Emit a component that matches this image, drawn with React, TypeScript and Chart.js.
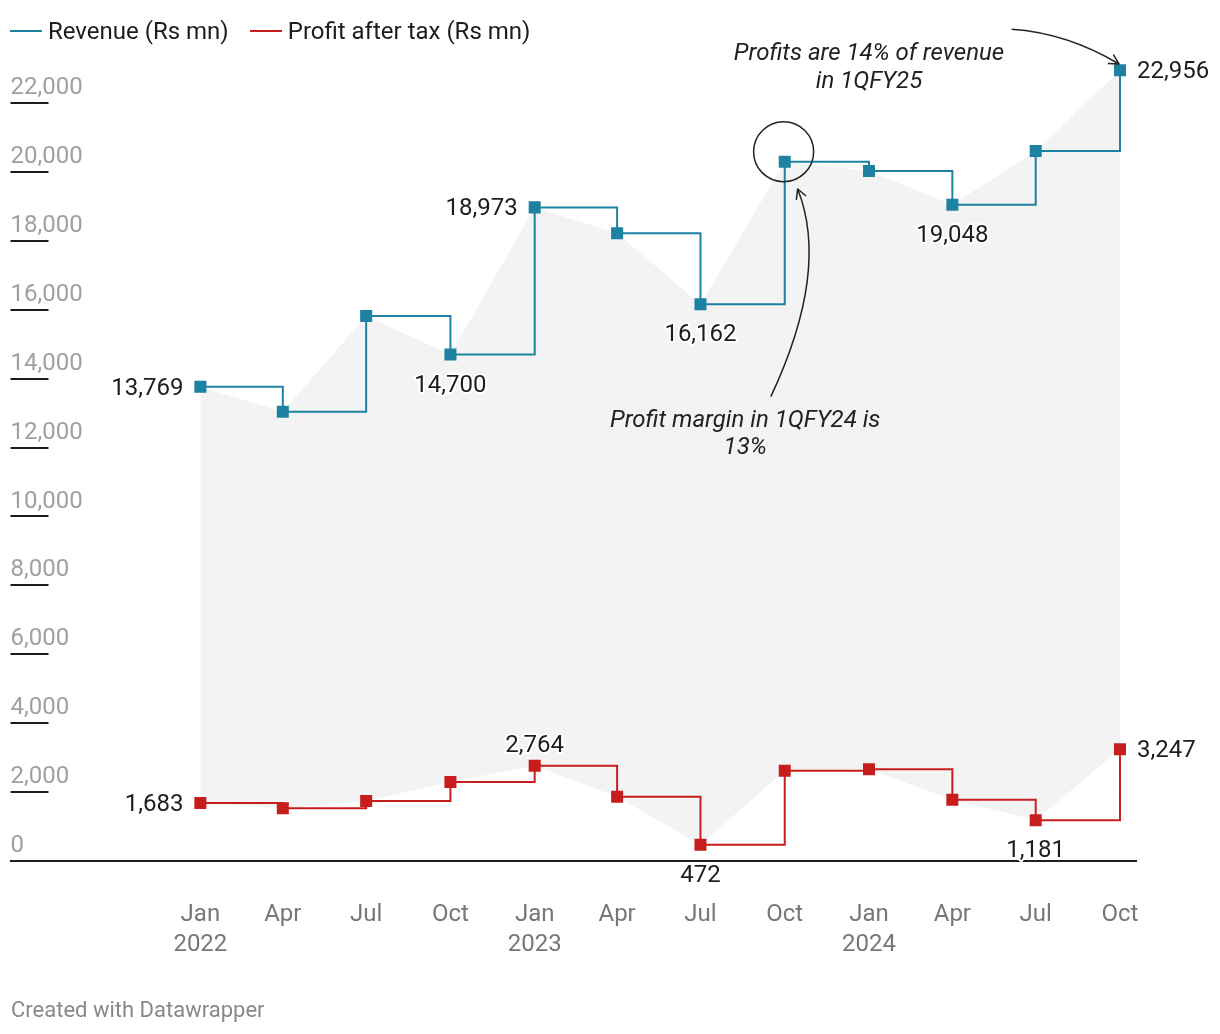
import React, { useEffect, useRef } from "react";
import { Chart, registerables } from "chart.js";

Chart.register(...registerables);

// ---------- data ----------
const DATES = [
  "2022-01-01", "2022-04-01", "2022-07-01", "2022-10-01",
  "2023-01-01", "2023-04-01", "2023-07-01", "2023-10-01",
  "2024-01-01", "2024-04-01", "2024-07-01", "2024-10-01",
];
const MONTH_LABELS = ["Jan", "Apr", "Jul", "Oct", "Jan", "Apr", "Jul", "Oct", "Jan", "Apr", "Jul", "Oct"];
const YEAR_LABELS = ["2022", "", "", "", "2023", "", "", "", "2024", "", "", ""];
const REVENUE = [13769, 13040, 15820, 14700, 18973, 18220, 16162, 20300, 20030, 19048, 20610, 22956];
const PROFIT = [1683, 1530, 1742, 2293, 2764, 1866, 472, 2620, 2665, 1778, 1181, 3247];
const Y_TICKS = [0, 2000, 4000, 6000, 8000, 10000, 12000, 14000, 16000, 18000, 20000, 22000];
const SERIES_NAMES = ["Revenue (Rs mn)", "Profit after tax (Rs mn)"];
const REVENUE_LABELS = [
  { index: 0, pos: "left" },
  { index: 3, pos: "below" },
  { index: 4, pos: "left" },
  { index: 6, pos: "below" },
  { index: 9, pos: "below" },
  { index: 11, pos: "right" },
];
const PROFIT_LABELS = [
  { index: 0, pos: "left" },
  { index: 4, pos: "above" },
  { index: 6, pos: "below" },
  { index: 10, pos: "below" },
  { index: 11, pos: "right" },
];
const NOTE_1 = ["Profits are 14% of revenue", "in 1QFY25"];
const NOTE_2 = ["Profit margin in 1QFY24 is", "13%"];
const FOOTER = "Created with Datawrapper";

// annotation anchors in data space (x: days since first date, y: value)
const NOTE_1_POS = { x: 730, y: [23251, 22438] };
const NOTE_2_POS = { x: 594.8, y: [12607, 11814] };
const ARROW_1 = [{ x: 885.8, y: 24142 }, { x: 946.2, y: 24034 }, { x: 1002.9, y: 23135 }];
const ARROW_2 = [{ x: 622.8, y: 13478 }, { x: 687.5, y: 17141 }, { x: 652.1, y: 19506 }];
const CIRCLE = { x: 636.8, y: 20590 };

// ---------- style ----------
const REV_COLOR = "#1d81a2";
const PRO_COLOR = "#c71e1d";
const AREA_COLOR = "#f3f3f3";
const TEXT_COLOR = "#1d1d1d";
const FONT = "Roboto, 'Noto Sans', sans-serif";

const X_MIN = -207.3;
const X_MAX = 1021.5;
const Y_MAX = 24000;

const dayOf = (d: string) => (Date.parse(d) - Date.parse(DATES[0])) / 86400000;

export default function App() {
  const ref = useRef<HTMLCanvasElement>(null);

  useEffect(() => {
    const canvas = ref.current!;
    const days = DATES.map(dayOf);
    const revPts = REVENUE.map((v, i) => ({ x: days[i], y: v }));
    const proPts = PROFIT.map((v, i) => ({ x: days[i], y: v }));

    const overlay = {
      id: "dwOverlay",
      beforeDatasetsDraw(chart: any) {
        const { ctx, chartArea, scales } = chart;
        ctx.save();
        ctx.strokeStyle = TEXT_COLOR;
        ctx.lineWidth = 2;
        Y_TICKS.forEach((v) => {
          const y = Math.round(scales.y.getPixelForValue(v));
          ctx.beginPath();
          ctx.moveTo(chartArea.left, y);
          ctx.lineTo(chartArea.left + 38, y);
          ctx.stroke();
        });
        ctx.restore();
      },
      afterDatasetsDraw(chart: any) {
        const { ctx, scales } = chart;
        const xs = scales.x;
        const ys = scales.y;
        const px = (p: { x: number; y: number }) => ({ x: xs.getPixelForValue(p.x), y: ys.getPixelForValue(p.y) });
        ctx.save();
        // data labels
        ctx.font = `24px ${FONT}`;
        ctx.textBaseline = "alphabetic";
        const drawLabels = (vals: number[], list: { index: number; pos: string }[]) => {
          list.forEach(({ index, pos }) => {
            const p = px({ x: days[index], y: vals[index] });
            const text = vals[index].toLocaleString("en-US");
            let x = p.x;
            let y = p.y + 8;
            let align: CanvasTextAlign = "center";
            if (pos === "left") { x = p.x - 17; align = "right"; }
            if (pos === "right") { x = p.x + 17; align = "left"; }
            if (pos === "below") { y = p.y + 37; }
            if (pos === "above") { y = p.y - 14; }
            ctx.textAlign = align;
            ctx.lineJoin = "round";
            ctx.lineWidth = 4;
            ctx.strokeStyle = "#ffffff";
            ctx.strokeText(text, x, y);
            ctx.fillStyle = TEXT_COLOR;
            ctx.fillText(text, x, y);
          });
        };
        drawLabels(REVENUE, REVENUE_LABELS);
        drawLabels(PROFIT, PROFIT_LABELS);

        // annotation texts
        ctx.font = `italic 24px ${FONT}`;
        ctx.fillStyle = "#222";
        ctx.textAlign = "center";
        [[NOTE_1, NOTE_1_POS], [NOTE_2, NOTE_2_POS]].forEach(([lines, pos]: any) => {
          lines.forEach((t: string, i: number) => {
            const p = px({ x: pos.x, y: pos.y[i] });
            ctx.fillText(t, p.x, p.y);
          });
        });

        // arrows
        ctx.strokeStyle = "#222";
        ctx.lineWidth = 1.5;
        [ARROW_1, ARROW_2].forEach((arr) => {
          const [a, b, c] = arr.map(px);
          ctx.beginPath();
          ctx.moveTo(a.x, a.y);
          ctx.quadraticCurveTo(b.x, b.y, c.x, c.y);
          ctx.stroke();
          const ang = Math.atan2(c.y - b.y, c.x - b.x);
          const L = 11;
          ctx.beginPath();
          ctx.moveTo(c.x - L * Math.cos(ang - 0.5), c.y - L * Math.sin(ang - 0.5));
          ctx.lineTo(c.x, c.y);
          ctx.lineTo(c.x - L * Math.cos(ang + 0.5), c.y - L * Math.sin(ang + 0.5));
          ctx.stroke();
        });

        // circle
        const cc = px(CIRCLE);
        ctx.beginPath();
        ctx.arc(cc.x, cc.y, 30, 0, Math.PI * 2);
        ctx.stroke();
        ctx.restore();
      },
    };

    const chart = new Chart(canvas, {
      type: "line",
      data: {
        datasets: [
          {
            label: "revenue-area",
            data: revPts,
            borderWidth: 0,
            pointRadius: 0,
            fill: "+1",
            backgroundColor: AREA_COLOR,
            order: 5,
          },
          {
            label: "profit-area",
            data: proPts,
            borderWidth: 0,
            pointRadius: 0,
            fill: false,
            order: 6,
          },
          {
            label: SERIES_NAMES[0],
            data: revPts,
            stepped: "before",
            borderColor: REV_COLOR,
            borderWidth: 2,
            pointStyle: "rect",
            pointRadius: 8.5,
            pointBackgroundColor: REV_COLOR,
            pointBorderWidth: 0,
            fill: false,
            order: 1,
          },
          {
            label: SERIES_NAMES[1],
            data: proPts,
            stepped: "before",
            borderColor: PRO_COLOR,
            borderWidth: 2,
            pointStyle: "rect",
            pointRadius: 8.5,
            pointBackgroundColor: PRO_COLOR,
            pointBorderWidth: 0,
            fill: false,
            order: 0,
          },
        ] as any,
      },
      options: {
        responsive: false,
        animation: false,
        events: [],
        layout: { padding: { left: 2, right: 76, top: 26.2, bottom: 27 } },
        plugins: { legend: { display: false }, tooltip: { enabled: false } },
        scales: {
          x: {
            type: "linear",
            min: X_MIN,
            max: X_MAX,
            afterBuildTicks: (scale: any) => {
              scale.ticks = days.map((d) => ({ value: d }));
            },
            grid: { display: false, drawTicks: false },
            border: { display: true, color: TEXT_COLOR, width: 2 },
            ticks: {
              autoSkip: false,
              maxRotation: 0,
              minRotation: 0,
              padding: 39,
              color: "#777777",
              font: { family: FONT, size: 24, lineHeight: 1.25 },
              callback: (value: any) => {
                const i = days.indexOf(Number(value));
                if (i < 0) return "";
                return YEAR_LABELS[i] ? [MONTH_LABELS[i], YEAR_LABELS[i]] : MONTH_LABELS[i];
              },
            },
          },
          y: {
            type: "linear",
            position: "left",
            min: 0,
            max: Y_MAX,
            afterBuildTicks: (scale: any) => {
              scale.ticks = Y_TICKS.map((v) => ({ value: v }));
            },
            grid: { display: false, drawTicks: false },
            border: { display: false },
            ticks: {
              mirror: true,
              padding: 0,
              labelOffset: -15,
              color: "#a0a0a0",
              font: { family: FONT, size: 24 },
              callback: (value: any) => Number(value).toLocaleString("en-US"),
            },
          },
        },
      } as any,
      plugins: [overlay],
    });
    return () => chart.destroy();
  }, []);

  const legendColors = [REV_COLOR, PRO_COLOR];

  return (
    <div style={{ position: "relative", width: 1204, height: 1018, fontFamily: FONT, color: TEXT_COLOR }}>
      <canvas ref={ref} width={1210} height={1018} style={{ position: "absolute", left: -6, top: 0 }} />
      <div style={{ position: "absolute", left: 2, top: 8, display: "flex", gap: 21, fontSize: 24, lineHeight: "30px", whiteSpace: "nowrap" }}>
        {SERIES_NAMES.map((name, i) => (
          <div key={name} style={{ display: "flex", alignItems: "center" }}>
            <span style={{ display: "inline-block", width: 32, height: 2, background: legendColors[i], marginRight: 6 }} />
            <span>{name}</span>
          </div>
        ))}
      </div>
      <div style={{ position: "absolute", left: 3, top: 987, fontSize: 22, lineHeight: "30px", color: "#888888" }}>{FOOTER}</div>
    </div>
  );
}
